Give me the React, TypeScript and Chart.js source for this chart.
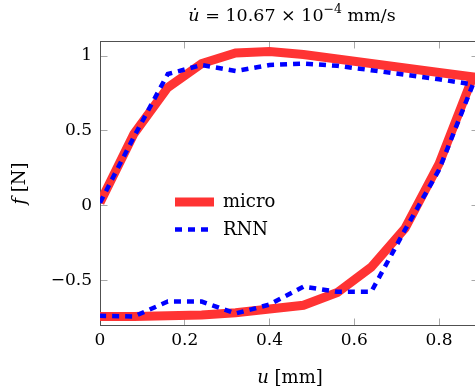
import React, { useEffect, useRef } from "react";
import { Chart, registerables } from "chart.js";

Chart.register(...registerables);

// ---- data ----
const seriesNames = ["micro", "RNN"];
const uUp = [0, 0.08, 0.16, 0.24, 0.32, 0.4, 0.48, 0.56, 0.64, 0.72, 0.8, 0.88];
const uDown = [0.8, 0.72, 0.64, 0.56, 0.48, 0.4, 0.32, 0.24, 0.16, 0.08, 0];
const microUp = [0.02, 0.48, 0.79, 0.95, 1.02, 1.03, 1.01, 0.98, 0.95, 0.92, 0.89, 0.86];
const microDown = [0.28, -0.15, -0.41, -0.58, -0.665, -0.69, -0.715, -0.73, -0.735, -0.74, -0.74];
const rnnUp = [0.02, 0.46, 0.88, 0.94, 0.9, 0.94, 0.95, 0.935, 0.905, 0.875, 0.845, 0.81];
const rnnDown = [0.24, -0.16, -0.575, -0.575, -0.54, -0.66, -0.72, -0.64, -0.64, -0.74, -0.735];
const xTicks = [0, 0.2, 0.4, 0.6, 0.8];
const yTicks = [-0.5, 0, 0.5, 1];
const xRange = [0, 0.892];
const yRange = [-0.8, 1.097];

const SERIF = '"DejaVu Serif", serif';
const RED = "rgb(255,51,51)";
const BLUE = "rgb(0,0,255)";

function fmt(v: number) {
  return String(v).replace("-", "\u2212");
}

function loop(up: number[], down: number[]) {
  return uUp
    .map((u, i) => ({ x: u, y: up[i] }))
    .concat(uDown.map((u, i) => ({ x: u, y: down[i] })));
}

const framePlugin = {
  id: "frame",
  beforeDatasetsDraw(chart: any) {
    const { ctx, chartArea: a, scales } = chart;
    const L = Math.floor(a.left) + 0.5;
    const R = Math.floor(a.right) + 0.5;
    const T = Math.floor(a.top) + 0.5;
    const B = Math.floor(a.bottom) + 0.5;
    ctx.save();
    ctx.strokeStyle = "#a8a8a8";
    ctx.lineWidth = 1;
    ctx.beginPath();
    xTicks.forEach((v) => {
      const px = Math.floor(scales.x.getPixelForValue(v)) + 0.5;
      ctx.moveTo(px, B);
      ctx.lineTo(px, B - 7);
      ctx.moveTo(px, T);
      ctx.lineTo(px, T + 7);
    });
    yTicks.forEach((v) => {
      const py = Math.floor(scales.y.getPixelForValue(v)) + 0.5;
      ctx.moveTo(L, py);
      ctx.lineTo(L + 7, py);
      ctx.moveTo(R, py);
      ctx.lineTo(R - 7, py);
    });
    ctx.stroke();
    ctx.strokeStyle = "#505050";
    ctx.strokeRect(L, T, R - L, B - T);
    ctx.restore();
  },
};

const textPlugin = {
  id: "texts",
  afterDraw(chart: any) {
    const { ctx, chartArea: a } = chart;
    ctx.save();
    ctx.fillStyle = "#000";
    // title
    const pieces = [
      { t: "u\u0307", f: `italic 17.5px ${SERIF}`, dy: 0 },
      { t: " = 10.67 \u00d7 10", f: `17.5px ${SERIF}`, dy: 0 },
      { t: "\u22124", f: `12.5px ${SERIF}`, dy: -7.5 },
      { t: " mm/s", f: `17.5px ${SERIF}`, dy: 0 },
    ];
    let total = 0;
    pieces.forEach((p) => {
      ctx.font = p.f;
      total += ctx.measureText(p.t).width;
    });
    let x = 292 - total / 2;
    ctx.textBaseline = "alphabetic";
    ctx.textAlign = "left";
    pieces.forEach((p) => {
      ctx.font = p.f;
      ctx.fillText(p.t, x, 20.5 + p.dy);
      x += ctx.measureText(p.t).width;
    });

    // x axis title
    const xp = [
      { t: "u", f: `italic 18px ${SERIF}` },
      { t: " [mm]", f: `18px ${SERIF}` },
    ];
    total = 0;
    xp.forEach((p) => {
      ctx.font = p.f;
      total += ctx.measureText(p.t).width;
    });
    x = 290 - total / 2;
    xp.forEach((p) => {
      ctx.font = p.f;
      ctx.fillText(p.t, x, 383);
      x += ctx.measureText(p.t).width;
    });

    // y axis title
    const yp = [
      { t: "f", f: `italic 18px ${SERIF}` },
      { t: " [N]", f: `18px ${SERIF}` },
    ];
    total = 0;
    yp.forEach((p) => {
      ctx.font = p.f;
      total += ctx.measureText(p.t).width;
    });
    ctx.translate(25, (a.top + a.bottom) / 2);
    ctx.rotate(-Math.PI / 2);
    x = -total / 2;
    yp.forEach((p) => {
      ctx.font = p.f;
      ctx.fillText(p.t, x, 0);
      x += ctx.measureText(p.t).width;
    });
    ctx.restore();

    // legend
    ctx.save();
    const lx0 = a.left + 75;
    const lx1 = a.left + 114;
    const ly0 = 202;
    const ly1 = 229.5;
    ctx.lineCap = "butt";
    ctx.strokeStyle = RED;
    ctx.lineWidth = 9;
    ctx.beginPath();
    ctx.moveTo(lx0, ly0);
    ctx.lineTo(lx1, ly0);
    ctx.stroke();
    ctx.strokeStyle = BLUE;
    ctx.lineWidth = 4.5;
    ctx.setLineDash([7, 6]);
    ctx.beginPath();
    ctx.moveTo(lx0, ly1);
    ctx.lineTo(lx1, ly1);
    ctx.stroke();
    ctx.setLineDash([]);
    ctx.fillStyle = "#000";
    ctx.font = `18px ${SERIF}`;
    ctx.textBaseline = "middle";
    ctx.textAlign = "left";
    ctx.fillText(seriesNames[0], a.left + 123, ly0);
    ctx.fillText(seriesNames[1], a.left + 123, ly1 + 1);
    ctx.restore();
  },
};

export default function App() {
  const ref = useRef<HTMLCanvasElement | null>(null);

  useEffect(() => {
    if (!ref.current) return;
    const chart = new Chart(ref.current, {
      type: "scatter",
      data: {
        datasets: [
          {
            label: seriesNames[0],
            data: loop(microUp, microDown),
            showLine: true,
            borderColor: RED,
            backgroundColor: RED,
            borderWidth: 9,
            borderJoinStyle: "miter",
            borderCapStyle: "butt",
            pointRadius: 0,
            order: 2,
          },
          {
            label: seriesNames[1],
            data: loop(rnnUp, rnnDown),
            showLine: true,
            borderColor: BLUE,
            backgroundColor: BLUE,
            borderWidth: 4.5,
            borderDash: [7, 6],
            borderJoinStyle: "miter",
            borderCapStyle: "butt",
            pointRadius: 0,
            order: 1,
          },
        ],
      } as any,
      options: {
        animation: false,
        responsive: false,
        layout: { padding: { top: 41.5, right: 2, left: 0, bottom: 0 } },
        plugins: {
          legend: { display: false },
          title: { display: false },
          tooltip: { enabled: false },
        },
        scales: {
          x: {
            type: "linear",
            min: xRange[0],
            max: xRange[1],
            afterBuildTicks: (s: any) => {
              s.ticks = xTicks.map((v) => ({ value: v }));
            },
            afterFit: (s: any) => {
              s.height = 65.5;
            },
            grid: { display: false, drawTicks: false },
            border: { display: false },
            ticks: {
              callback: (v: any) => fmt(Number(v)),
              font: { family: SERIF, size: 17 },
              color: "#000",
              padding: 5,
              maxRotation: 0,
              autoSkip: false,
            },
          },
          y: {
            type: "linear",
            min: yRange[0],
            max: yRange[1],
            afterBuildTicks: (s: any) => {
              s.ticks = yTicks.map((v) => ({ value: v }));
            },
            afterFit: (s: any) => {
              s.width = 100;
            },
            grid: { display: false, drawTicks: false },
            border: { display: false },
            ticks: {
              callback: (v: any) => fmt(Number(v)),
              font: { family: SERIF, size: 17 },
              color: "#000",
              padding: 8,
              autoSkip: false,
            },
          },
        },
      } as any,
      plugins: [framePlugin, textPlugin],
    });
    return () => chart.destroy();
  }, []);

  return (
    <div
      style={{
        position: "fixed",
        left: 0,
        top: 0,
        width: 475,
        height: 391,
        overflow: "hidden",
        background: "#fff",
      }}
    >
      <canvas ref={ref} width={480} height={391} style={{ display: "block" }} />
    </div>
  );
}
